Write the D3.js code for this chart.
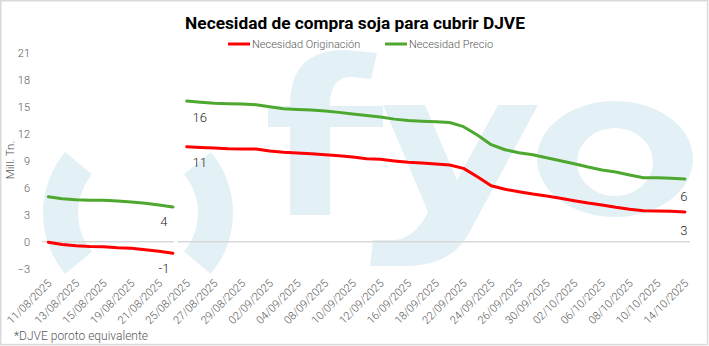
<!DOCTYPE html>
<html><head><meta charset="utf-8">
<script src="https://cdn.jsdelivr.net/npm/d3@7"></script>
<style>body{margin:0;background:#fff}svg{display:block}</style>
</head><body><svg id="c" width="709" height="346"></svg>
<script>
// ---------- DATA ----------
const dates = ["11/08/2025","12/08/2025","13/08/2025","14/08/2025","15/08/2025","18/08/2025","19/08/2025","20/08/2025","21/08/2025","22/08/2025",
"25/08/2025","26/08/2025","27/08/2025","28/08/2025","29/08/2025","01/09/2025","02/09/2025","03/09/2025","04/09/2025","05/09/2025",
"08/09/2025","09/09/2025","10/09/2025","11/09/2025","12/09/2025","15/09/2025","16/09/2025","17/09/2025","18/09/2025","19/09/2025",
"22/09/2025","23/09/2025","24/09/2025","25/09/2025","26/09/2025","29/09/2025","30/09/2025","01/10/2025","02/10/2025","03/10/2025",
"06/10/2025","07/10/2025","08/10/2025","09/10/2025","10/10/2025","13/10/2025","14/10/2025"];
const originacion = [-0.07,-0.30,-0.44,-0.52,-0.55,-0.67,-0.74,-0.89,-1.07,-1.29,
10.56,10.48,10.41,10.33,10.30,10.30,10.08,9.93,9.86,9.78,9.67,9.56,9.41,
9.22,9.15,8.97,8.82,8.74,8.63,8.52,8.15,7.22,6.22,5.82,5.56,5.30,5.08,4.82,4.56,4.30,4.08,3.82,3.60,3.44,3.41,3.37,3.30];
const precio = [5.00,4.78,4.67,4.60,4.60,4.52,4.41,4.26,4.08,3.86,
15.63,15.49,15.37,15.33,15.30,15.22,15.00,14.78,14.70,14.63,14.52,14.37,14.19,
14.03,13.85,13.62,13.47,13.39,13.32,13.24,12.78,11.86,10.78,10.22,9.88,9.67,9.33,9.00,8.67,8.30,7.97,7.74,7.41,7.11,7.11,7.04,6.97];
const yTicks = [-3,0,3,6,9,12,15,18,21];
const breakAfter = "22/08/2025";
const seriesNames = ["Necesidad Originación","Necesidad Precio"];
const labelDates = ["22/08/2025","25/08/2025","14/10/2025"];
const labelsOriginacion = ["-1","11","3"];
const labelsPrecio = ["4","16","6"];
const title = "Necesidad de compra soja para cubrir DJVE";
const yTitle = "Mill. Tn.";
const footnote = "*DJVE poroto equivalente";

// ---------- STYLE ----------
const W = 709, H = 346;
const colors = {orig:"#ff0000", precio:"#4ea72e", wm:"#e3f1f6", axis:"#d9d9d9", txt:"#595959"};
const labelOffsets = [[-9,15],[13,16],[-1,18]]; // per label date (dx,dy)
const svg = d3.select("#c");

svg.append("rect").attr("x",0.75).attr("y",0.75).attr("width",W-2.2).attr("height",H-2.2)
  .attr("fill","#fff").attr("stroke","#d9d9d9").attr("stroke-width",1.5);

const x = d3.scalePoint().domain(dates).range([41.4, 691.9]).padding(0.5);
const y = d3.scaleLinear().domain([-3,21]).range([268.7, 52.7]);

// ---------- WATERMARK ----------
const wm = svg.append("g").attr("fill", colors.wm);
const arc = d3.arc().innerRadius(60).outerRadius(95);
const deg = Math.PI/180;
wm.append("path").attr("transform","translate(138,213)").attr("d", arc({startAngle:-130*deg, endAngle:-50*deg}));
wm.append("path").attr("transform","translate(138,213)").attr("d", arc({startAngle:50*deg, endAngle:130*deg}));
// f
wm.append("path").attr("d","M290,215 L290,105 Q290,50 345,50 L377,53 L371,79 L352,77 Q330,76 330,105 L330,215 Z");
wm.append("rect").attr("x",268).attr("y",106).attr("width",115).attr("height",21);
// y
wm.append("path").attr("d","M383,105 L425,105 L457,180 L498,105 L538,105 L468,235 Q450,266 405,266 L370,266 L373,240 L395,240 Q415,238 428,212 Z");
// o
function ell(cx,cy,rx,ry){return `M${cx-rx},${cy} a${rx},${ry} 0 1,0 ${2*rx},0 a${rx},${ry} 0 1,0 ${-2*rx},0 Z`;}
wm.append("path").attr("fill-rule","evenodd").attr("d", ell(615,159,78,58)+" "+ell(615,162,38,34));

// ---------- AXES ----------
const bi = dates.indexOf(breakAfter);
const gapX0 = x(dates[bi]) + 1, gapX1 = x(dates[bi]) + 5;
svg.append("line").attr("x1",42).attr("x2",gapX0).attr("y1",y(0)).attr("y2",y(0)).attr("stroke",colors.axis).attr("stroke-width",1.5);
svg.append("line").attr("x1",gapX1).attr("x2",690).attr("y1",y(0)).attr("y2",y(0)).attr("stroke",colors.axis).attr("stroke-width",1.5);

const font = "Roboto, 'Open Sans', sans-serif";
const yAxis = d3.axisLeft(y).tickValues(yTicks).tickSize(0).tickPadding(0);
const gy = svg.append("g").attr("transform","translate(30,0)").call(yAxis);
gy.select(".domain").remove();
gy.selectAll("text").attr("font-family",font).attr("font-size",11).attr("fill",colors.txt).attr("font-weight",300);

const xAxis = d3.axisBottom(x).tickValues(dates.filter((d,i)=>i%2===0)).tickSize(0).tickPadding(0);
const gx = svg.append("g").call(xAxis);
gx.select(".domain").remove();
gx.selectAll(".tick").attr("transform", d=>`translate(${x(d)+4},284)`);
gx.selectAll("text").attr("font-family",font).attr("font-size",11).attr("fill",colors.txt).attr("font-weight",300)
  .attr("text-anchor","end").attr("dy",0).attr("y",0).attr("transform","rotate(-45)");

svg.append("text").attr("transform","translate(14,160) rotate(-90)").attr("text-anchor","middle")
  .attr("font-family",font).attr("font-size",11.5).attr("font-weight",300).attr("fill",colors.txt).text(yTitle);

// ---------- LINES ----------
const segs = [dates.slice(0,bi+1), dates.slice(bi+1)];
const line = d3.line().x(d=>x(d.d)).y(d=>y(d.v));
[[originacion,colors.orig],[precio,colors.precio]].forEach(([vals,c])=>{
  segs.forEach(seg=>{
    svg.append("path").datum(seg.map(d=>({d, v: vals[dates.indexOf(d)]})))
      .attr("d",line).attr("fill","none").attr("stroke",c).attr("stroke-width",3).attr("stroke-linejoin","round").attr("stroke-linecap","round");
  });
});

// ---------- DATA LABELS ----------
[[originacion,labelsOriginacion],[precio,labelsPrecio]].forEach(([vals,labs])=>{
  labelDates.forEach((d,k)=>{
    const i = dates.indexOf(d);
    svg.append("text").attr("x",x(d)+labelOffsets[k][0]).attr("y",y(vals[i])+labelOffsets[k][1])
      .attr("text-anchor","middle").attr("dominant-baseline","central")
      .attr("font-family",font).attr("font-size",13).attr("font-weight",300).attr("fill","#262626").text(labs[k]);
  });
});

// ---------- TITLE / LEGEND / NOTE ----------
const t = svg.append("text").attr("x",355).attr("y",29).attr("text-anchor","middle")
  .attr("font-family","'Liberation Sans Narrow','Roboto',sans-serif").attr("font-weight",700).attr("font-size",19).attr("fill","#000").text(title);
const tw = t.node().getComputedTextLength();
t.attr("font-size", 19*340/tw);

const leg = [[228, colors.orig, seriesNames[0]],[385, colors.precio, seriesNames[1]]];
leg.forEach(([lx,c,name])=>{
  svg.append("line").attr("x1",lx).attr("x2",lx+22).attr("y1",44).attr("y2",44).attr("stroke",c).attr("stroke-width",3);
  svg.append("text").attr("x",lx+24).attr("y",44).attr("dominant-baseline","central")
    .attr("font-family",font).attr("font-size",11).attr("font-weight",300).attr("fill",colors.txt).text(name);
});

svg.append("text").attr("x",14).attr("y",340).attr("font-family",font).attr("font-size",12).attr("font-weight",300)
  .attr("fill",colors.txt).text(footnote);
</script></body></html>
